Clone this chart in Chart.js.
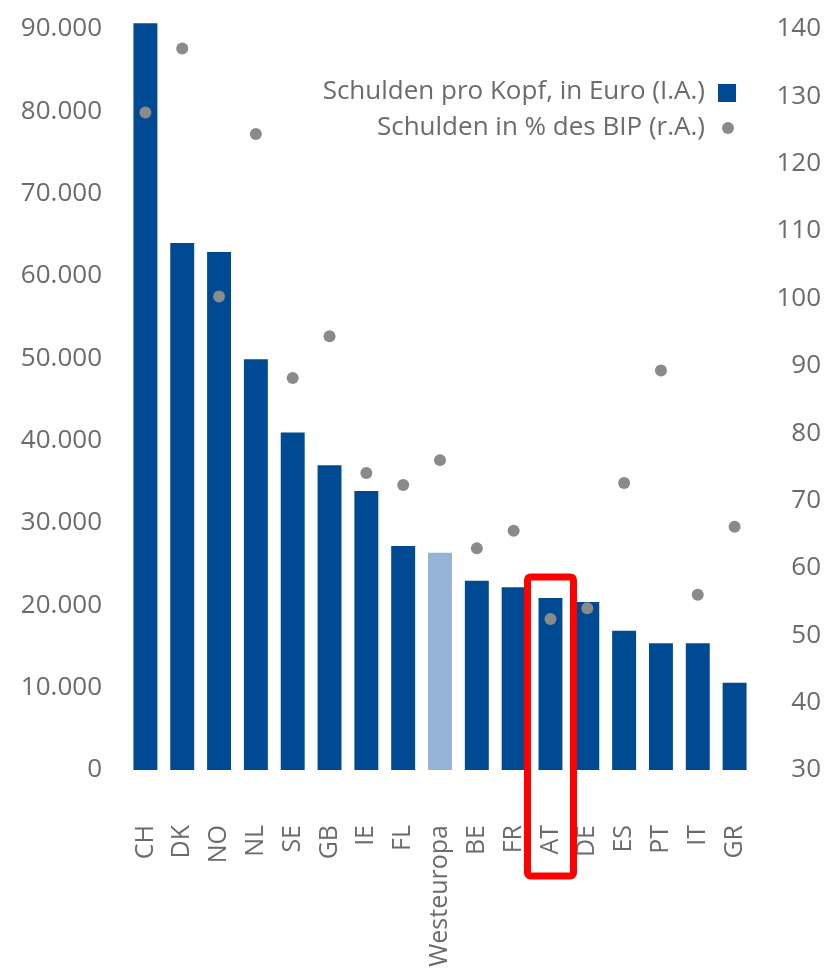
<!DOCTYPE html>
<html>
<head>
<meta charset="utf-8">
<script src="https://cdn.jsdelivr.net/npm/chart.js@4.4.0/dist/chart.umd.min.js"></script>
<style>
  html, body { margin: 0; padding: 0; background: #fff; }
  #wrap { width: 828px; height: 969px; position: relative; }
</style>
</head>
<body>
<div id="wrap"><canvas id="chart"></canvas></div>
<script>
const categories = ["CH", "DK", "NO", "NL", "SE", "GB", "IE", "FL", "Westeuropa", "BE", "FR", "AT", "DE", "ES", "PT", "IT", "GR"];
const debtPerCapita = [90700, 64000, 62900, 49900, 41000, 37000, 33900, 27200, 26400, 23000, 22200, 20900, 20400, 16900, 15400, 15400, 10600];
const debtPctGdp = [127.6, 137.1, 100.3, 124.4, 88.2, 94.4, 74.1, 72.3, 76.0, 62.9, 65.5, 52.4, 54.0, 72.6, 89.3, 56.0, 66.1];
const leftTicks = [0, 10000, 20000, 30000, 40000, 50000, 60000, 70000, 80000, 90000];
const rightTicks = [30, 40, 50, 60, 70, 80, 90, 100, 110, 120, 130, 140];
const highlight = "AT";

const blue = "#004a93";
const lightBlue = "#94b3d6";
const grey = "#8a8a8a";
const textColor = "#6b6b6b";
const fontFamily = "'Open Sans', sans-serif";

// dots thousands with a point, like 90.000
function fmt(v) {
  return String(v).replace(/\B(?=(\d{3})+(?!\d))/g, ".");
}

const barColors = categories.map(c => c === "Westeuropa" ? lightBlue : blue);

// legend top right + red box around AT
const extras = {
  id: "extras",
  afterDraw(chart) {
    const ctx = chart.ctx;
    ctx.save();
    ctx.font = "26px " + fontFamily;
    ctx.fillStyle = textColor;
    ctx.textAlign = "right";
    ctx.textBaseline = "middle";
    const ds = chart.data.datasets;
    ctx.fillText(ds[1].label, 705, 92);
    ctx.fillText(ds[0].label, 705, 128);
    ctx.fillStyle = blue;
    ctx.fillRect(718, 84, 18, 18);
    ctx.fillStyle = grey;
    ctx.beginPath();
    ctx.arc(728, 128, 6, 0, Math.PI * 2);
    ctx.fill();

    const x = chart.scales.x.getPixelForValue(categories.indexOf(highlight));
    const meta = chart.getDatasetMeta(1);
    const barTop = meta.data[categories.indexOf(highlight)].y;
    ctx.strokeStyle = "#ff0000";
    ctx.lineWidth = 7;
    ctx.lineJoin = "round";
    const w = 46;
    const top = barTop - 21;
    const bottom = chart.chartArea.bottom + 106;
    ctx.beginPath();
    ctx.roundRect(x - w / 2, top, w, bottom - top, 3);
    ctx.stroke();
    ctx.restore();
  }
};

// no extra room for the end labels, so 90.000 sits right at the top
function noPad(scale) {
  scale.paddingTop = 0;
  scale.paddingBottom = 0;
}

new Chart(document.getElementById("chart"), {
  data: {
    labels: categories,
    datasets: [
      {
        type: "line",
        label: "Schulden in % des BIP (r.A.)",
        data: debtPctGdp,
        yAxisID: "y1",
        showLine: false,
        pointRadius: 6,
        pointBackgroundColor: grey,
        pointBorderWidth: 0,
        order: 0
      },
      {
        type: "bar",
        label: "Schulden pro Kopf, in Euro (I.A.)",
        data: debtPerCapita,
        yAxisID: "y",
        backgroundColor: barColors,
        barPercentage: 0.65,
        categoryPercentage: 1,
        clip: false,
        order: 1
      }
    ]
  },
  options: {
    responsive: true,
    maintainAspectRatio: false,
    animation: false,
    layout: { padding: { top: 29, left: 0, right: 7, bottom: 0 } },
    plugins: {
      legend: { display: false },
      tooltip: { enabled: false }
    },
    scales: {
      x: {
        grid: { display: false },
        border: { display: false },
        ticks: {
          color: textColor,
          font: { family: fontFamily, size: 25 },
          minRotation: 90,
          maxRotation: 90,
          padding: 47,
          autoSkip: false
        },
        afterFit(scale) {
          scale.height = 199;
          scale.paddingLeft = 0;
          scale.paddingRight = 0;
        }
      },
      y: {
        position: "left",
        min: 0,
        max: 90000,
        grid: { display: false },
        border: { display: false },
        afterBuildTicks(scale) { scale.ticks = leftTicks.map(v => ({ value: v })); },
        ticks: {
          color: textColor,
          font: { family: fontFamily, size: 26 },
          padding: 17,
          callback: v => fmt(v)
        },
        afterFit(scale) { scale.width = 127; noPad(scale); }
      },
      y1: {
        position: "right",
        min: 30,
        max: 140,
        grid: { display: false },
        border: { display: false },
        afterBuildTicks(scale) { scale.ticks = rightTicks.map(v => ({ value: v })); },
        ticks: {
          color: textColor,
          font: { family: fontFamily, size: 26 },
          crossAlign: "far",
          padding: 20
        },
        afterFit(scale) { scale.width = 68; noPad(scale); }
      }
    }
  },
  plugins: [extras]
});
</script>
</body>
</html>
